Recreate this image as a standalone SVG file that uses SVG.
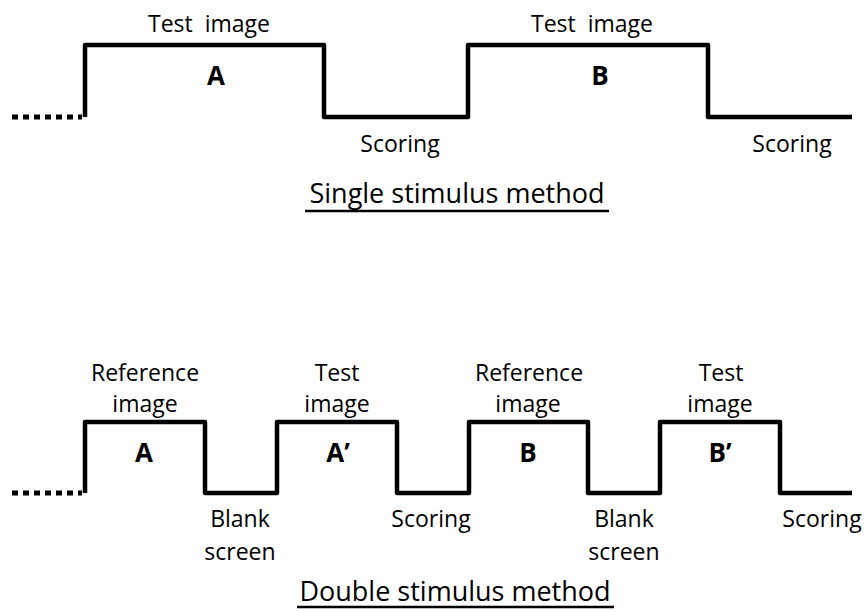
<svg xmlns="http://www.w3.org/2000/svg" width="865" height="613" viewBox="0 0 865 613">
  <style>
    .wave { fill: none; stroke: #000; stroke-width: 4.5; stroke-linejoin: round; }
    .dots { fill: none; stroke: #000; stroke-width: 5; stroke-dasharray: 6 5; }
    .lbl { font-family: "Open Sans", "Liberation Sans", sans-serif; font-size: 23px; fill: #000; text-anchor: middle; white-space: pre; }
    .id { font-family: "Open Sans", "Liberation Sans", sans-serif; font-size: 26px; font-weight: bold; fill: #000; text-anchor: middle; }
    .title { font-family: "Open Sans", "Liberation Sans", sans-serif; font-size: 27px; fill: #000; text-anchor: middle; }
    .uline { stroke: #000; stroke-width: 2.6; }
  </style>
  <rect width="865" height="613" fill="#fff"/>

  <!-- timing signals -->
  <g id="connectors">
    <line class="dots" x1="12" y1="117" x2="82" y2="117"/>
    <path class="wave" d="M85 117 V45 H324 V117 H468 V45 H708 V117 H852"/>
    <line class="dots" x1="12" y1="493" x2="82" y2="493"/>
    <path class="wave" d="M85 493 V422 H205 V493 H277 V422 H397 V493 H469 V422 H588 V493 H660 V422 H780 V493 H852"/>
  </g>

  <!-- single stimulus method -->
  <g id="ss-test-a">
    <text class="lbl" x="209" y="32" xml:space="preserve">Test  image</text>
    <text class="id" x="216" y="85">A</text>
  </g>
  <g id="ss-score-a">
    <text class="lbl" x="400" y="152">Scoring</text>
  </g>
  <g id="ss-test-b">
    <text class="lbl" x="592" y="32" xml:space="preserve">Test  image</text>
    <text class="id" x="600" y="85">B</text>
  </g>
  <g id="ss-score-b">
    <text class="lbl" x="792" y="152">Scoring</text>
  </g>
  <g id="ss-title">
    <text class="title" x="457" y="203">Single stimulus method</text>
    <line class="uline" x1="305" y1="211" x2="609" y2="211"/>
  </g>

  <!-- double stimulus method -->
  <g id="ds-ref-a">
    <text class="lbl" x="145" y="381">Reference</text>
    <text class="lbl" x="145" y="412">image</text>
    <text class="id" x="144" y="462">A</text>
  </g>
  <g id="ds-blank-a">
    <text class="lbl" x="240" y="527">Blank</text>
    <text class="lbl" x="240" y="560">screen</text>
  </g>
  <g id="ds-test-a">
    <text class="lbl" x="337" y="381">Test</text>
    <text class="lbl" x="337" y="412">image</text>
    <text class="id" x="338" y="462">A’</text>
  </g>
  <g id="ds-score-a">
    <text class="lbl" x="431" y="527">Scoring</text>
  </g>
  <g id="ds-ref-b">
    <text class="lbl" x="529" y="381">Reference</text>
    <text class="lbl" x="528" y="412">image</text>
    <text class="id" x="528" y="462">B</text>
  </g>
  <g id="ds-blank-b">
    <text class="lbl" x="624" y="527">Blank</text>
    <text class="lbl" x="624" y="560">screen</text>
  </g>
  <g id="ds-test-b">
    <text class="lbl" x="721" y="381">Test</text>
    <text class="lbl" x="720" y="412">image</text>
    <text class="id" x="720" y="462">B’</text>
  </g>
  <g id="ds-score-b">
    <text class="lbl" x="822" y="527">Scoring</text>
  </g>
  <g id="ds-title">
    <text class="title" x="455" y="601">Double stimulus method</text>
    <line class="uline" x1="297" y1="607" x2="614" y2="607"/>
  </g>
</svg>
